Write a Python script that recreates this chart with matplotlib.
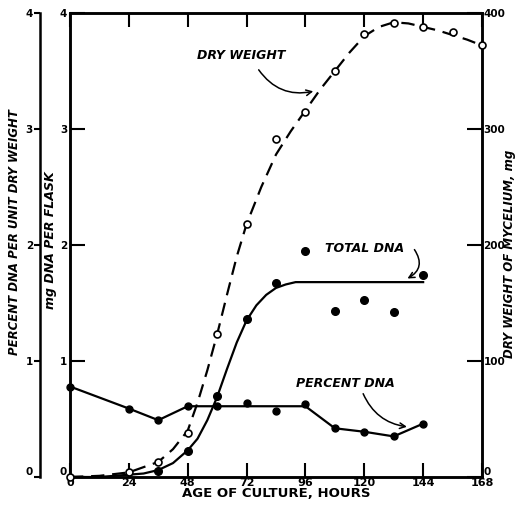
import matplotlib
matplotlib.use("Agg")
import matplotlib.pyplot as plt

# ---- data ----
hours = [0, 24, 48, 72, 96, 120, 144, 168]

# dry weight of mycelium, mg (open circles)
dw_hours = [0, 24, 36, 48, 60, 72, 84, 96, 108, 120, 132, 144, 156, 168]
dw_mg = [0, 4, 13, 38, 123, 218, 291, 315, 350, 382, 391, 388, 384, 372]

# hand-drawn dashed curve through dry weight
dw_curve_h = [0, 12, 24, 36, 42, 48, 52, 56, 60, 64, 68, 72, 78, 84, 90,
              96, 102, 108, 114, 120, 126, 132, 138, 144, 150, 156, 162, 168]
dw_curve_mg = [0, 1, 4, 13, 24, 40, 64, 92, 123, 157, 190, 218, 250, 278, 298,
               316, 334, 350, 366, 380, 388, 392, 391, 388, 385, 381, 377, 372]

# total DNA, mg per flask (filled circles)
tot_hours = [36, 48, 60, 72, 84, 96, 108, 120, 132, 144]
tot_dna = [0.05, 0.22, 0.70, 1.36, 1.67, 1.95, 1.43, 1.53, 1.42, 1.74]

# hand-drawn solid curve through total DNA
tot_curve_h = [0, 12, 24, 30, 36, 42, 48, 52, 56, 60, 64, 68, 72, 76, 80, 84,
               88, 92, 96, 144]
tot_curve = [0.0, 0.0, 0.02, 0.03, 0.06, 0.12, 0.23, 0.33, 0.49, 0.69, 0.93,
             1.16, 1.35, 1.48, 1.57, 1.63, 1.66, 1.68, 1.68, 1.68]

# percent DNA per unit dry weight
pct_hours = [0, 24, 36, 48, 60, 72, 84, 96, 108, 120, 132, 144]
pct_dna = [0.78, 0.59, 0.49, 0.61, 0.61, 0.64, 0.57, 0.63, 0.42, 0.39, 0.35, 0.46]
pct_line_h = [0, 24, 36, 48, 96, 108, 120, 132, 144]
pct_line = [0.78, 0.59, 0.49, 0.61, 0.61, 0.42, 0.39, 0.35, 0.46]

left_ticks = [0, 1, 2, 3, 4]
right_ticks = [0, 100, 200, 300, 400]

W, H = 517, 505
fig = plt.figure(figsize=(W / 100, H / 100), dpi=100)
ax = fig.add_axes([70 / W, (H - 477) / H, 412 / W, 464 / H])

bold = dict(fontweight="bold", family="DejaVu Sans")
ital = dict(fontweight="bold", style="italic", family="DejaVu Sans")

# main (inner left) axis: mg DNA per flask
ax.set_xlim(0, 168)
ax.set_ylim(0, 4)
ax.set_xticks(hours)
ax.set_xticklabels([str(h) for h in hours], fontsize=8, **bold)
ax.set_yticks(left_ticks)
ax.set_yticklabels([str(t) for t in left_ticks], fontsize=7.5, **bold)
ax.tick_params(axis="x", direction="in", length=10, width=1.5, pad=1,
               top=True)
ax.tick_params(axis="y", direction="in", length=11, width=1.5, pad=2)
for s in ax.spines.values():
    s.set_linewidth(1.8)
ax.set_xlabel("AGE OF CULTURE, HOURS", fontsize=9.5, labelpad=-1, **bold)
ax.get_yticklabels()[0].set_va("bottom")

# right axis: dry weight
axr = ax.twinx()
axr.set_ylim(0, 400)
axr.set_yticks(right_ticks)
axr.set_yticklabels([str(t) for t in right_ticks], fontsize=7.5, **bold)
axr.tick_params(axis="y", direction="in", length=11, width=1.5, pad=1)
for s in axr.spines.values():
    s.set_linewidth(1.8)
axr.get_yticklabels()[0].set_va("bottom")

# outer left axis: percent DNA per unit dry weight
axo = ax.twinx()
axo.set_ylim(0, 4)
axo.spines["left"].set_position(("outward", 21.6))
axo.spines["left"].set_visible(True)
axo.spines["left"].set_linewidth(1.8)
for k in ["right", "top", "bottom"]:
    axo.spines[k].set_visible(False)
axo.yaxis.set_ticks_position("left")
axo.yaxis.set_label_position("left")
axo.set_yticks(left_ticks)
axo.set_yticklabels([str(t) for t in left_ticks], fontsize=7.5, **bold)
axo.tick_params(axis="y", direction="out", length=4, width=1.5, pad=1)
axo.get_yticklabels()[0].set_va("bottom")

# curves
axr.plot(dw_curve_h, dw_curve_mg, color="black", lw=1.6, ls=(0, (6, 3.5)),
         zorder=2)
axr.plot(dw_hours, dw_mg, "o", ms=5, mfc="white", mec="black", mew=1.2,
         zorder=3, clip_on=False)
ax.plot(tot_curve_h, tot_curve, color="black", lw=1.6, zorder=2)
ax.plot(tot_hours, tot_dna, "o", ms=5.5, color="black", zorder=3,
        clip_on=False)
ax.plot(pct_line_h, pct_line, color="black", lw=1.6, zorder=2)
ax.plot(pct_hours, pct_dna, "o", ms=5, mfc="black", mec="black", zorder=3,
        clip_on=False)

# axis titles
fig.text(15 / W, 1 - 232 / H, "PERCENT DNA PER UNIT DRY WEIGHT", rotation=90,
         ha="center", va="center", fontsize=8.5, **ital)
fig.text(51 / W, 1 - 240 / H, "mg DNA PER FLASK", rotation=90,
         ha="center", va="center", fontsize=9, **ital)
fig.text(510 / W, 1 - 254 / H, "DRY WEIGHT OF MYCELIUM, mg", rotation=90,
         ha="center", va="center", fontsize=8.5, **ital)

# annotations
ax.text(69.7, 3.63, "DRY WEIGHT", ha="center", va="center", fontsize=9,
        **ital)
ax.annotate("", xy=(100.3, 3.33), xytext=(76.3, 3.53),
            arrowprops=dict(arrowstyle="->", lw=1.1, color="black",
                            connectionstyle="arc3,rad=0.35"))
ax.text(120, 1.97, "TOTAL DNA", ha="center", va="center", fontsize=9,
        **ital)
ax.annotate("", xy=(136.6, 1.70), xytext=(139.8, 1.98),
            arrowprops=dict(arrowstyle="->", lw=1.1, color="black",
                            connectionstyle="arc3,rad=-0.6"))
ax.text(112.2, 0.81, "PERCENT DNA", ha="center", va="center", fontsize=9,
        **ital)
ax.annotate("", xy=(138.5, 0.43), xytext=(119.1, 0.74),
            arrowprops=dict(arrowstyle="->", lw=1.1, color="black",
                            connectionstyle="arc3,rad=0.3"))

fig.savefig("out.png", dpi=100)
